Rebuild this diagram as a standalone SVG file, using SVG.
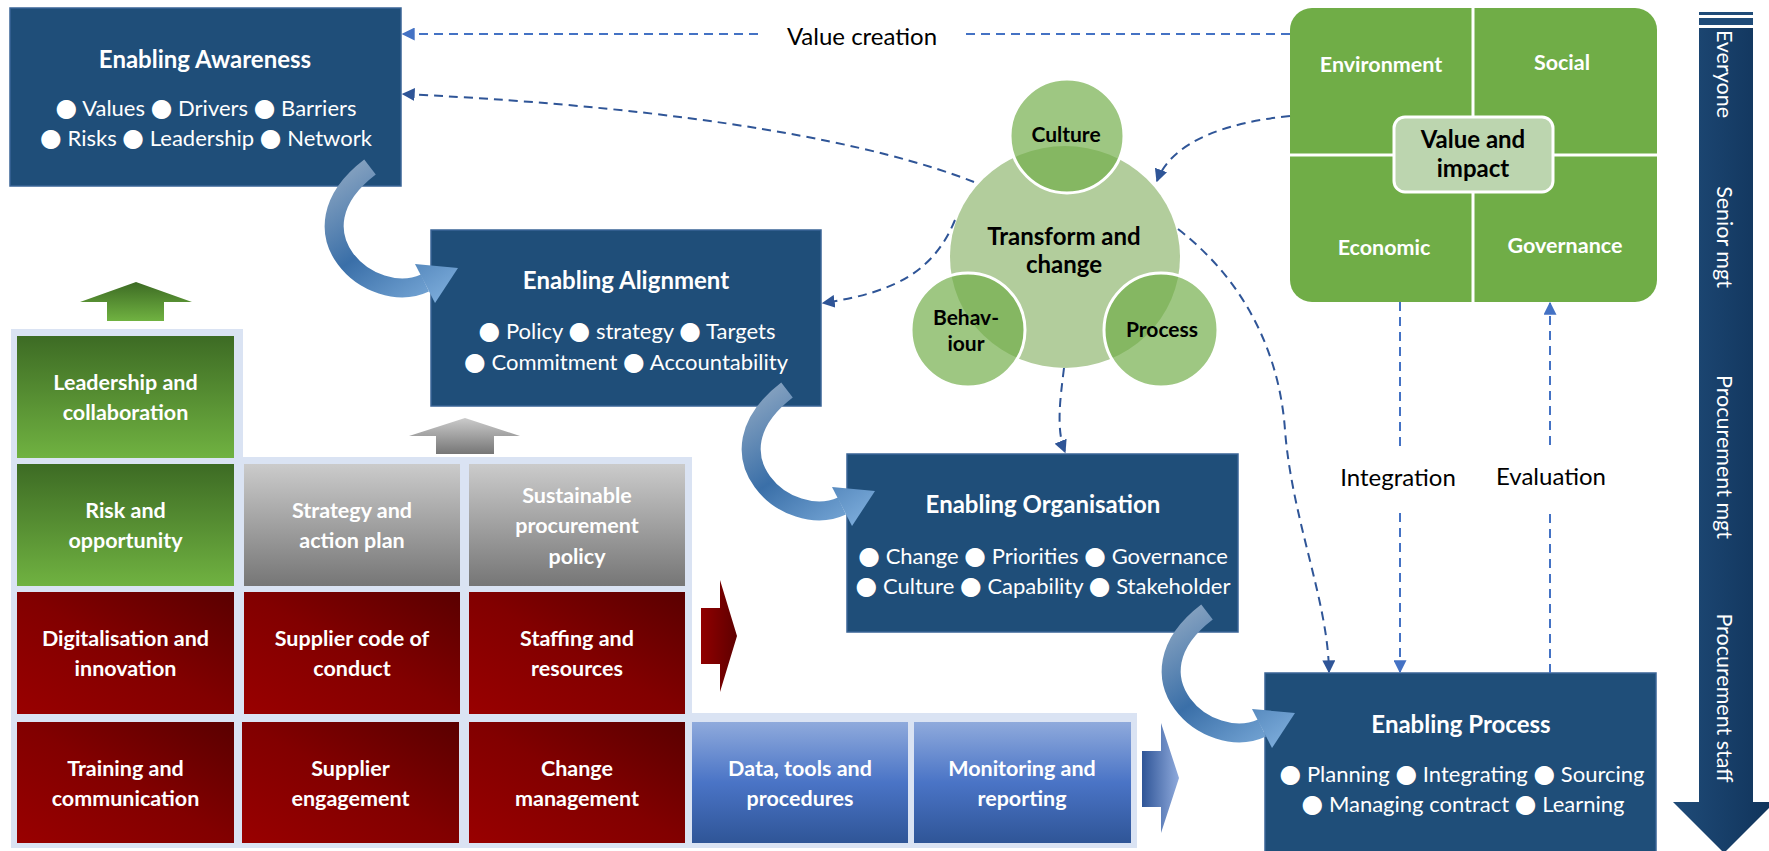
<svg xmlns="http://www.w3.org/2000/svg" width="1769" height="851" viewBox="0 0 1769 851">
<defs>
<style>
.nb{fill:#1f4e79;stroke:#3a6496;stroke-width:1.5}
.tt{font-family:Lato,"Liberation Sans",sans-serif;font-weight:bold;font-size:24px;fill:#fff;text-anchor:middle}
.bl{font-family:Lato,"DejaVu Sans",sans-serif;font-size:22px;fill:#fff;text-anchor:middle}
.bu{font-family:"DejaVu Sans",sans-serif;font-size:25px}
.gt{font-family:Lato,"Liberation Sans",sans-serif;font-weight:bold;font-size:21.5px;fill:#fff;text-anchor:middle}
.qt{font-family:Lato,"Liberation Sans",sans-serif;font-weight:bold;font-size:21.5px;fill:#fff;text-anchor:middle}
.ct{font-family:Lato,"Liberation Sans",sans-serif;font-weight:bold;fill:#000;text-anchor:middle}
.lt{font-family:Lato,"Liberation Sans",sans-serif;font-size:24px;fill:#000;text-anchor:middle}
.vt{font-family:Lato,"Liberation Sans",sans-serif;font-size:21.5px;fill:#fff;text-anchor:middle}
.dl{fill:none;stroke:#4472c4;stroke-width:2;stroke-dasharray:9 6}
.dd{fill:none;stroke:#2f5597;stroke-width:2;stroke-dasharray:9 6}
.sc{fill:#70ad47;fill-opacity:0.68;stroke:#fff;stroke-width:3}
</style>
<marker id="ml" viewBox="0 0 10 10" refX="9" refY="5" markerWidth="13" markerHeight="13" markerUnits="userSpaceOnUse" orient="auto"><path d="M0,0 L10,5 L0,10 z" fill="#4472c4"/></marker>
<marker id="md" viewBox="0 0 10 10" refX="9" refY="5" markerWidth="13" markerHeight="13" markerUnits="userSpaceOnUse" orient="auto"><path d="M0,0 L10,5 L0,10 z" fill="#2f5597"/></marker>
<linearGradient id="gGreen" x1="0" y1="0" x2="0" y2="1"><stop offset="0" stop-color="#3d6b24"/><stop offset="1" stop-color="#70b241"/></linearGradient>
<linearGradient id="gGray" x1="0" y1="0" x2="0" y2="1"><stop offset="0" stop-color="#cbcbcb"/><stop offset="1" stop-color="#767676"/></linearGradient>
<linearGradient id="gRed" x1="0" y1="1" x2="1" y2="0"><stop offset="0" stop-color="#990000"/><stop offset="0.5" stop-color="#820000"/><stop offset="1" stop-color="#5a0000"/></linearGradient>
<linearGradient id="gBlue" x1="0" y1="0" x2="0" y2="1"><stop offset="0" stop-color="#8faadc"/><stop offset="0.5" stop-color="#4a74c6"/><stop offset="1" stop-color="#2f5597"/></linearGradient>
<linearGradient id="gRedA" x1="0" y1="0" x2="1" y2="0"><stop offset="0" stop-color="#900000"/><stop offset="1" stop-color="#5e0000"/></linearGradient>
<linearGradient id="gBlueA" x1="0" y1="0" x2="1" y2="0"><stop offset="0" stop-color="#2f5597"/><stop offset="1" stop-color="#8faadc"/></linearGradient>
<linearGradient id="gBar" x1="0" y1="0" x2="1" y2="0"><stop offset="0" stop-color="#1f4b78"/><stop offset="1" stop-color="#10335a"/></linearGradient>
<linearGradient id="gCurve" gradientUnits="userSpaceOnUse" x1="360" y1="158" x2="460" y2="305"><stop offset="0" stop-color="#86a2c0"/><stop offset="0.45" stop-color="#3a6fa8"/><stop offset="1" stop-color="#86b5e2"/></linearGradient>
<g id="curveArrow">
<path d="M370,167 C285,232 371,308 425,283" fill="none" stroke="url(#gCurve)" stroke-width="19"/>
<polygon points="415,264 458,268 435,303" fill="url(#gCurve)"/>
</g>
</defs>
<rect width="1769" height="851" fill="#fff"/>

<g id="left-grid">
<path d="M11,329 H243 V457 H692 V713 H1137 V848 H11 Z" fill="#dae3f3"/>
<polygon points="136,282 192,302 164,302 164,321 107,321 107,302 80,302" fill="url(#gGreen)"/>
<polygon points="465,418 520,436 494,436 494,454 436,454 436,436 409,436" fill="url(#gGray)"/>
<polygon points="701,608 720,608 720,580 737,636 720,692 720,664 701,664" fill="url(#gRedA)"/>
<polygon points="1142,751 1161,751 1161,723 1179,778 1161,833 1161,807 1142,807" fill="url(#gBlueA)"/>
</g>
<g id="leadership"><rect x="17" y="336" width="217" height="122" fill="url(#gGreen)"/><text class="gt" x="125.5" y="390">Leadership and</text><text class="gt" x="125.5" y="420">collaboration</text></g>
<g id="risk"><rect x="17" y="464" width="217" height="122" fill="url(#gGreen)"/><text class="gt" x="125.5" y="518">Risk and</text><text class="gt" x="125.5" y="548">opportunity</text></g>
<g id="strategy"><rect x="244" y="464" width="216" height="122" fill="url(#gGray)"/><text class="gt" x="352" y="518">Strategy and</text><text class="gt" x="352" y="548">action plan</text></g>
<g id="sustainable"><rect x="469" y="464" width="216" height="122" fill="url(#gGray)"/><text class="gt" x="577" y="503">Sustainable</text><text class="gt" x="577" y="533">procurement</text><text class="gt" x="577" y="564">policy</text></g>
<g id="digitalisation"><rect x="17" y="592" width="217" height="122" fill="url(#gRed)"/><text class="gt" x="125.5" y="646">Digitalisation and</text><text class="gt" x="125.5" y="676">innovation</text></g>
<g id="supplier-code"><rect x="244" y="592" width="216" height="122" fill="url(#gRed)"/><text class="gt" x="352" y="646">Supplier code of</text><text class="gt" x="352" y="676">conduct</text></g>
<g id="staffing"><rect x="469" y="592" width="216" height="122" fill="url(#gRed)"/><text class="gt" x="577" y="646">Staffing and</text><text class="gt" x="577" y="676">resources</text></g>
<g id="training"><rect x="17" y="722" width="217" height="121" fill="url(#gRed)"/><text class="gt" x="125.5" y="776">Training and</text><text class="gt" x="125.5" y="806">communication</text></g>
<g id="supplier-engagement"><rect x="242" y="722" width="217" height="121" fill="url(#gRed)"/><text class="gt" x="350.5" y="776">Supplier</text><text class="gt" x="350.5" y="806">engagement</text></g>
<g id="change-management"><rect x="469" y="722" width="216" height="121" fill="url(#gRed)"/><text class="gt" x="577" y="776">Change</text><text class="gt" x="577" y="806">management</text></g>
<g id="data-tools"><rect x="692" y="722" width="216" height="121" fill="url(#gBlue)"/><text class="gt" x="800" y="776">Data, tools and</text><text class="gt" x="800" y="806">procedures</text></g>
<g id="monitoring"><rect x="914" y="722" width="217" height="121" fill="url(#gBlue)"/><text class="gt" x="1022" y="776">Monitoring and</text><text class="gt" x="1022" y="806">reporting</text></g>

<g id="awareness"><rect class="nb" x="10" y="8" width="391" height="178"/><text class="tt" x="205" y="68">Enabling Awareness</text><text class="bl" x="206" y="116"><tspan class="bu">●</tspan> Values <tspan class="bu">●</tspan> Drivers <tspan class="bu">●</tspan> Barriers</text><text class="bl" x="206" y="146"><tspan class="bu">●</tspan> Risks <tspan class="bu">●</tspan> Leadership <tspan class="bu">●</tspan> Network</text></g>
<g id="alignment"><rect class="nb" x="431" y="230" width="390" height="176"/><text class="tt" x="626" y="289">Enabling Alignment</text><text class="bl" x="627" y="339"><tspan class="bu">●</tspan> Policy <tspan class="bu">●</tspan> strategy <tspan class="bu">●</tspan> Targets</text><text class="bl" x="626" y="370"><tspan class="bu">●</tspan> Commitment <tspan class="bu">●</tspan> Accountability</text></g>
<g id="organisation"><rect class="nb" x="847" y="454" width="391" height="178"/><text class="tt" x="1043" y="513">Enabling Organisation</text><text class="bl" x="1043" y="564"><tspan class="bu">●</tspan> Change <tspan class="bu">●</tspan> Priorities <tspan class="bu">●</tspan> Governance</text><text class="bl" x="1043" y="594"><tspan class="bu">●</tspan> Culture <tspan class="bu">●</tspan> Capability <tspan class="bu">●</tspan> Stakeholder</text></g>
<g id="process"><rect class="nb" x="1265" y="673" width="391" height="182"/><text class="tt" x="1461" y="733">Enabling Process</text><text class="bl" x="1462" y="782"><tspan class="bu">●</tspan> Planning <tspan class="bu">●</tspan> Integrating <tspan class="bu">●</tspan> Sourcing</text><text class="bl" x="1463" y="812"><tspan class="bu">●</tspan> Managing contract <tspan class="bu">●</tspan> Learning</text></g>

<g id="transform">
<ellipse cx="1065" cy="257" rx="115" ry="111" fill="#b2cd9c"/>
<circle class="sc" cx="1067" cy="136" r="57"/>
<circle class="sc" cx="968" cy="330" r="57"/>
<circle class="sc" cx="1161" cy="330" r="57"/>
<text class="ct" x="1066" y="142" font-size="21">Culture</text>
<text class="ct" x="1064" y="245" font-size="24">Transform and</text>
<text class="ct" x="1064" y="273" font-size="24">change</text>
<text class="ct" x="966" y="325" font-size="21">Behav-</text>
<text class="ct" x="966" y="351" font-size="21">iour</text>
<text class="ct" x="1162" y="337" font-size="21">Process</text>
</g>

<g id="value-impact">
<rect x="1290" y="8" width="367" height="294" rx="22" fill="#70ad47"/>
<line x1="1473" y1="8" x2="1473" y2="302" stroke="#fff" stroke-width="3"/>
<line x1="1290" y1="155" x2="1657" y2="155" stroke="#fff" stroke-width="3"/>
<rect x="1394" y="117" width="159" height="75" rx="11" fill="#bcd5af" stroke="#fff" stroke-width="3"/>
<text class="qt" x="1381" y="72">Environment</text>
<text class="qt" x="1562" y="70">Social</text>
<text class="qt" x="1384" y="255">Economic</text>
<text class="qt" x="1565" y="253">Governance</text>
<text class="ct" x="1473" y="148" font-size="24">Value and</text>
<text class="ct" x="1473" y="177" font-size="24">impact</text>
</g>

<g id="roles-bar">
<rect x="1699" y="12" width="54" height="3" fill="#1f4b78"/>
<rect x="1699" y="18" width="54" height="7" fill="#1f4b78"/>
<path d="M1699,28 H1753 V802 H1775 L1724,853 L1673,802 H1699 Z" fill="url(#gBar)"/>
<text class="vt" transform="translate(1724,74) rotate(90)" y="7">Everyone</text>
<text class="vt" transform="translate(1724,237) rotate(90)" y="7">Senior mgt</text>
<text class="vt" transform="translate(1724,457) rotate(90)" y="7">Procurement mgt</text>
<text class="vt" transform="translate(1724,698) rotate(90)" y="7">Procurement staff</text>
</g>

<g id="connectors">
<use href="#curveArrow"/>
<use href="#curveArrow" transform="translate(417,223)"/>
<use href="#curveArrow" transform="translate(837,445)"/>
<path class="dl" d="M758,34 L403,34" marker-end="url(#ml)"/>
<path class="dl" d="M1290,34 L966,34"/>
<text class="lt" x="862" y="45">Value creation</text>
<path class="dd" d="M974,182 C880,145 700,108 403,94" marker-end="url(#md)"/>
<path class="dd" d="M955,220 C935,268 900,292 823,303" marker-end="url(#md)"/>
<path class="dd" d="M1290,116 C1230,122 1172,140 1157,181" marker-end="url(#md)"/>
<path class="dd" d="M1178,229 C1250,285 1280,360 1285,430 C1292,520 1328,600 1329,672" marker-end="url(#md)"/>
<path class="dd" d="M1064,368 C1060,400 1056,430 1065,452" marker-end="url(#md)"/>
<path class="dl" d="M1400,302 L1400,447"/>
<path class="dl" d="M1400,513 L1400,672" marker-end="url(#ml)"/>
<path class="dl" d="M1550,673 L1550,509"/>
<path class="dl" d="M1550,445 L1550,303" marker-end="url(#ml)"/>
<text class="lt" x="1398" y="486">Integration</text>
<text class="lt" x="1551" y="485">Evaluation</text>
</g>
</svg>
